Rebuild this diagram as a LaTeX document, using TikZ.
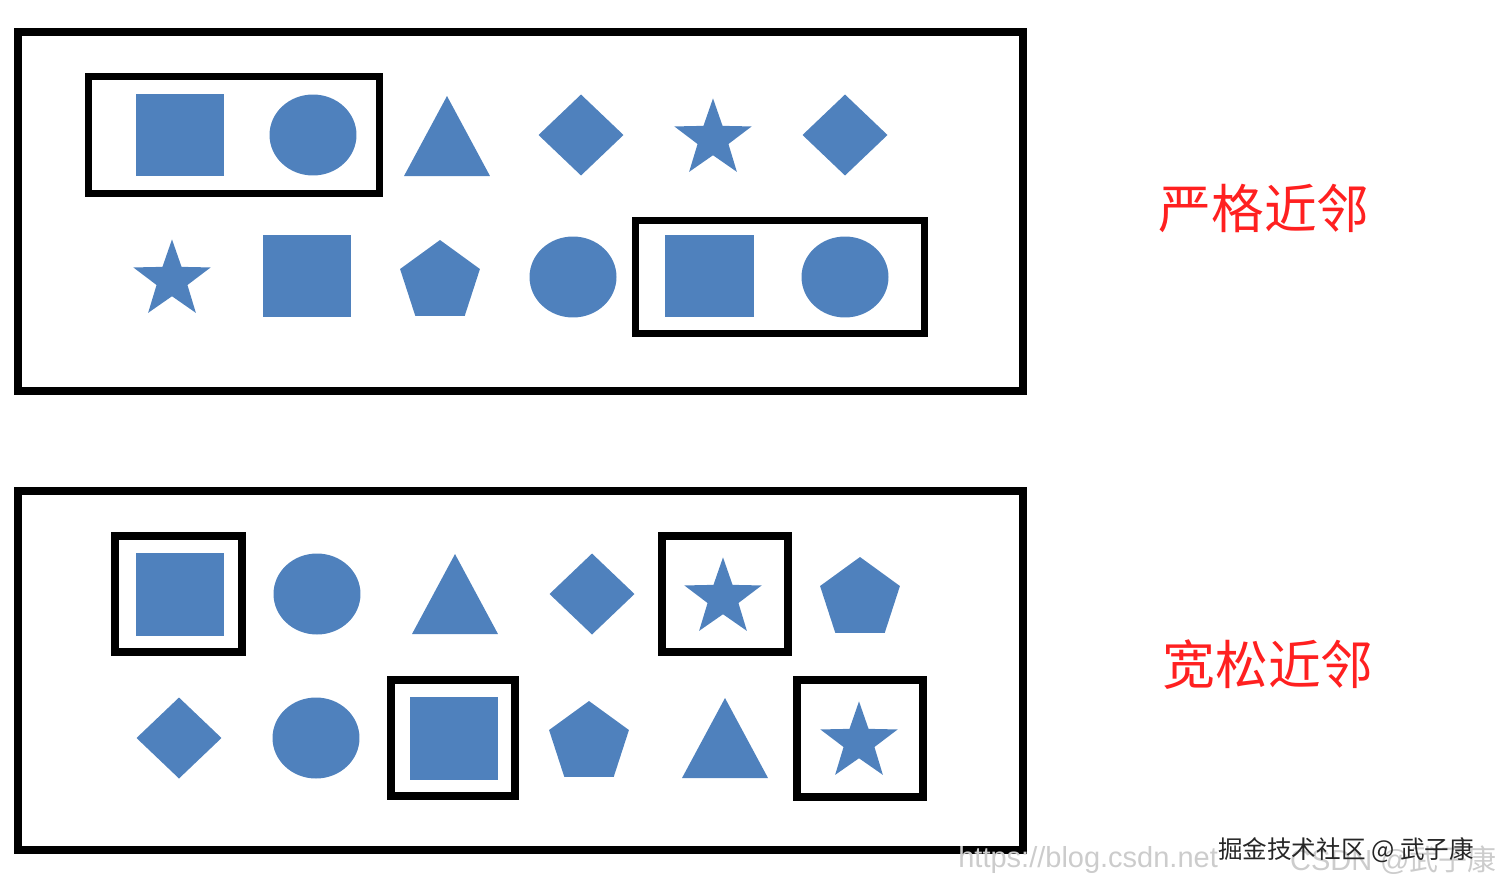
\documentclass[tikz,border=0pt]{standalone}
\usepackage{fontspec}
\setsansfont{Liberation Sans}
\newfontfamily\cjk{Noto Sans CJK SC}
\usetikzlibrary{shapes.geometric}
\definecolor{shapeblue}{RGB}{79,129,189}
\definecolor{markred}{RGB}{255,32,32}
\tikzset{
    shp/.style={fill=shapeblue,draw=none,inner sep=0pt,outer sep=0pt},
    sq/.style={shp,rectangle,minimum width=17.8mm,minimum height=16.6mm},
    circ/.style={shp,ellipse,minimum width=17.4mm,minimum height=16.2mm},
    dia/.style={shp,diamond,minimum width=17mm,minimum height=16.2mm},
    pstar/.style={shp,star,star points=5,star point ratio=0.4,minimum size=6.5mm,
        shape border rotate=180},
    pent/.style={shp,regular polygon,regular polygon sides=5,minimum size=16.8mm},
    tri/.style={shp,isosceles triangle,isosceles triangle stretches,
        shape border rotate=90,minimum width=17.2mm,minimum height=16mm,anchor=lower side},
    frame/.style={draw,line width=5.1pt},
    pick/.style={draw,line width=4pt},
    lbl/.style={text=markred,font=\cjk\fontsize{30}{30}\selectfont},
    wmark/.style={text=black!20,font=\sffamily\fontsize{16.5}{16.5}\selectfont,inner sep=0pt},
    stamp/.style={text=black!85,font=\cjk\fontsize{14}{14}\selectfont,inner sep=0pt}
}
\newcommand\pickbox[5][]{
    \draw[pick,#1] (#2,#3) rectangle (#4,#5);
}

\begin{document}
\begin{tikzpicture}[x=0.02cm,y=-0.02cm]
    \useasboundingbox (0,0) rectangle (1500,889);
    % strict neighbours
    \draw[frame] (18,32) rectangle (1023,391);
    \node[sq]    (s11) at (180,135) {};
    \node[circ]  (s12) at (313,135) {};
    \node[tri]   (s13) at (447,176) {};
    \node[dia]   (s14) at (581,135) {};
    \node[pstar] (s15) at (713,139) {};
    \node[dia]   (s16) at (845,135) {};
    \node[pstar] (s21) at (172,280) {};
    \node[sq]    (s22) at (307,276) {};
    \node[pent]  (s23) at (440,282) {};
    \node[circ]  (s24) at (573,277) {};
    \node[sq]    (s25) at (709,276) {};
    \node[circ]  (s26) at (845,277) {};
    \pickbox{88.5}{76.5}{379.5}{193.5}
    \pickbox{635.5}{220.5}{924.5}{333.5}
    \node[lbl] (strict) at (1264,208) {严格近邻};
    % loose neighbours
    \draw[frame] (18,491) rectangle (1023,850);
    \node[sq]    (l11) at (180,594) {};
    \node[circ]  (l12) at (317,594) {};
    \node[tri]   (l13) at (455,634) {};
    \node[dia]   (l14) at (592,594) {};
    \node[pstar] (l15) at (723,598) {};
    \node[pent]  (l16) at (860,599) {};
    \node[dia]   (l21) at (179,738) {};
    \node[circ]  (l22) at (316,738) {};
    \node[sq]    (l23) at (454,738) {};
    \node[pent]  (l24) at (589,743) {};
    \node[tri]   (l25) at (725,778) {};
    \node[pstar] (l26) at (859,742) {};
    \pickbox[line width=4.5pt]{115}{536}{242}{652}
    \pickbox[line width=4.5pt]{662}{536}{788}{652}
    \pickbox[line width=4.5pt]{391}{680}{515}{796}
    \pickbox[line width=4.5pt]{797}{680}{923}{797}
    \node[lbl] (loose) at (1268,665) {宽松近邻};
    % watermarks
    \node[wmark,anchor=west] (url)  at (958,860) {https://blog.csdn.net};
    \node[wmark,anchor=east] (csdn) at (1497,860) {CSDN @{\cjk 武子康}};
    \node[stamp] (juejin) at (1346,850) {掘金技术社区 @ 武子康};
\end{tikzpicture}
\end{document}
